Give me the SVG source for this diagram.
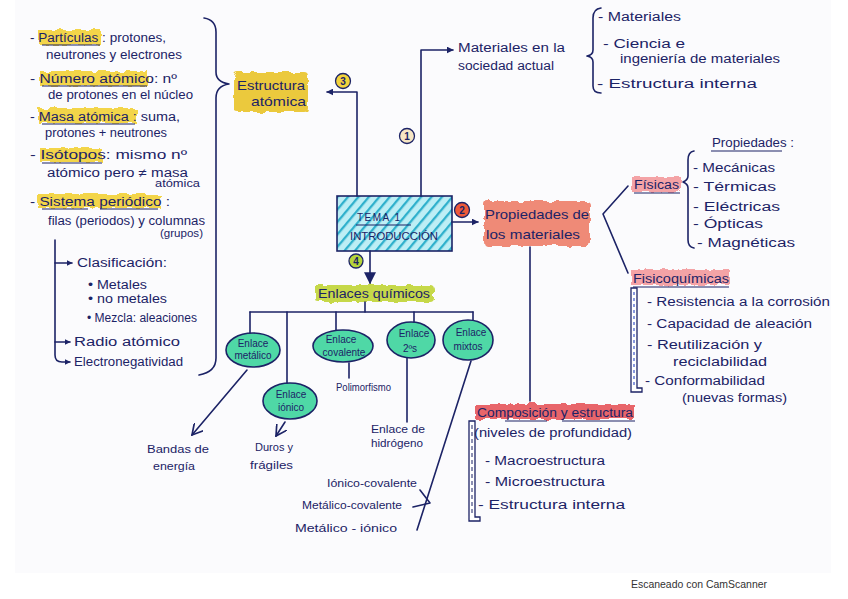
<svg xmlns="http://www.w3.org/2000/svg" width="848" height="599" viewBox="0 0 848 599">
<style>
.t{font-family:"Liberation Sans",Arial,sans-serif;font-size:12px;fill:#1c2366}
.s{font-size:10px}
.m{font-size:13px}
.c{text-anchor:middle}
.ink{fill:none;stroke:#1c2366;stroke-width:1.6;stroke-linecap:round;stroke-linejoin:round}
.ul{stroke:#1c2366;stroke-width:1.2}
.ell{fill:#4fd8a6;stroke:#1c2366;stroke-width:1.6}
.hl{filter:url(#rough)}
.num{font-family:"Liberation Sans",Arial,sans-serif;font-size:10px;font-weight:bold;fill:#1c2366;text-anchor:middle}
</style>
<defs>
<filter id="rough" x="-10%" y="-30%" width="120%" height="160%">
<feTurbulence type="fractalNoise" baseFrequency="0.12" numOctaves="2" seed="4" result="n"/>
<feDisplacementMap in="SourceGraphic" in2="n" scale="6"/>
</filter>
<pattern id="hatch" width="8" height="8" patternUnits="userSpaceOnUse" patternTransform="rotate(40)">
<rect width="8" height="8" fill="#bdeef5"/>
<line x1="1" y1="0" x2="1" y2="8" stroke="#2fb0cc" stroke-width="2.6"/>
</pattern>
<marker id="ah" viewBox="0 0 10 10" refX="9" refY="5" markerWidth="7" markerHeight="7" orient="auto-start-reverse" markerUnits="userSpaceOnUse">
<path d="M0,0 L10,5 L0,10 z" fill="#1c2366"/>
</marker>
<marker id="ahs" viewBox="0 0 10 10" refX="9" refY="5" markerWidth="6" markerHeight="6" orient="auto" markerUnits="userSpaceOnUse">
<path d="M0,0 L10,5 L0,10 z" fill="#1c2366"/>
</marker>
<marker id="ahb" viewBox="0 0 10 10" refX="9" refY="5" markerWidth="12" markerHeight="12" orient="auto" markerUnits="userSpaceOnUse">
<path d="M0,0 L10,5 L0,10 z" fill="#1c2366"/>
</marker>
<marker id="chev" viewBox="0 0 10 10" refX="9" refY="5" markerWidth="12" markerHeight="12" orient="auto" markerUnits="userSpaceOnUse">
<path d="M0,0 L9,5 L0,10" fill="none" stroke="#1c2366" stroke-width="1.4"/>
</marker>
</defs>
<rect width="848" height="599" fill="#ffffff"/>
<rect x="15" y="0" width="816" height="573" fill="#fbfbfd"/>

<!-- Left column: estructura atómica details -->
<g id="left-list">
<rect class="hl" x="39" y="30" width="62" height="15" fill="#f3d54a"/>
<rect class="hl" x="40" y="71" width="108" height="15" fill="#f3d54a"/>
<rect class="hl" x="38" y="108" width="98" height="15" fill="#f3d54a"/>
<rect class="hl" x="40" y="148" width="62" height="14" fill="#f3d54a"/>
<rect class="hl" x="38" y="194" width="122" height="14" fill="#f3d54a"/>
<line class="ul" x1="42" y1="45" x2="100" y2="45"/>
<line class="ul" x1="42" y1="86" x2="147" y2="86"/>
<line class="ul" x1="42" y1="124" x2="135" y2="124"/>
<line class="ul" x1="42" y1="163" x2="102" y2="163"/>
<line class="ul" x1="42" y1="209" x2="88" y2="209"/>
<line class="ul" x1="100" y1="209" x2="158" y2="209"/>
<text class="t" x="30" y="42" textLength="136" lengthAdjust="spacingAndGlyphs">- Partículas : protones,</text>
<text class="t" x="46" y="59" textLength="136" lengthAdjust="spacingAndGlyphs">neutrones y electrones</text>
<text class="t" x="30" y="83" textLength="147" lengthAdjust="spacingAndGlyphs">- Número atómico: nº</text>
<text class="t" x="48" y="99" textLength="145" lengthAdjust="spacingAndGlyphs">de protones en el núcleo</text>
<text class="t" x="30" y="121" textLength="150" lengthAdjust="spacingAndGlyphs">- Masa atómica : suma,</text>
<text class="t" x="45" y="137" textLength="122" lengthAdjust="spacingAndGlyphs">protones + neutrones</text>
<text class="t" x="30" y="159" textLength="157" lengthAdjust="spacingAndGlyphs">- Isótopos: mismo nº</text>
<text class="t" x="47" y="177" textLength="141" lengthAdjust="spacingAndGlyphs">atómico pero ≠ masa</text>
<text class="t s" x="155" y="187" textLength="45" lengthAdjust="spacingAndGlyphs">atómica</text>
<text class="t" x="30" y="206" textLength="140" lengthAdjust="spacingAndGlyphs">- Sistema periódico :</text>
<text class="t" x="48" y="225" textLength="157" lengthAdjust="spacingAndGlyphs">filas (periodos) y columnas</text>
<text class="t s" x="160" y="237" textLength="43" lengthAdjust="spacingAndGlyphs">(grupos)</text>
<path class="ink" d="M55,240 L55,355 Q55,362 62,362 L70,362" marker-end="url(#ahs)"/>
<line class="ink" x1="55" y1="263" x2="72" y2="263" marker-end="url(#ahs)"/>
<line class="ink" x1="55" y1="342" x2="70" y2="342" marker-end="url(#ahs)"/>
<text class="t" x="77" y="267" textLength="90" lengthAdjust="spacingAndGlyphs">Clasificación:</text>
<text class="t" x="88" y="289" textLength="59" lengthAdjust="spacingAndGlyphs">• Metales</text>
<text class="t" x="88" y="303" textLength="79" lengthAdjust="spacingAndGlyphs">• no metales</text>
<text class="t" x="87" y="322" textLength="110" lengthAdjust="spacingAndGlyphs">• Mezcla: aleaciones</text>
<text class="t" x="74" y="346" textLength="106" lengthAdjust="spacingAndGlyphs">Radio atómico</text>
<text class="t" x="74" y="366" textLength="109" lengthAdjust="spacingAndGlyphs">Electronegatividad</text>
<path class="ink" d="M204,18 Q216,20 216,32 L216,72 Q216,82 229,84 Q216,86 216,98 L216,358 Q216,372 199,375"/>
</g>

<!-- Estructura atómica -->
<g id="estructura-atomica">
<rect class="hl" x="234" y="72" width="74" height="40" rx="4" fill="#ebc93e"/>
<text class="t m" x="237" y="90" textLength="68" lengthAdjust="spacingAndGlyphs">Estructura</text>
<text class="t m" x="251" y="106" textLength="55" lengthAdjust="spacingAndGlyphs">atómica</text>
</g>

<!-- Tema box -->
<g id="tema">
<rect x="337" y="196" width="115" height="55" fill="url(#hatch)" stroke="#1c2366" stroke-width="1.6"/>
<text class="t s" x="357" y="221" letter-spacing="1.5">TEMA 1</text>
<line class="ul" x1="356" y1="225" x2="411" y2="225"/>
<text class="t s" x="350" y="240" textLength="88" lengthAdjust="spacingAndGlyphs">INTRODUCCIÓN</text>
</g>

<!-- Materiales en la sociedad actual -->
<g id="materiales-sociedad">
<text class="t" x="458" y="52" textLength="107" lengthAdjust="spacingAndGlyphs">Materiales en la</text>
<text class="t" x="458" y="70" textLength="96" lengthAdjust="spacingAndGlyphs">sociedad actual</text>
<path class="ink" d="M601,8 Q593,9 593,18 L593,50 Q593,55 587,56 Q593,57 593,62 L593,86 Q593,93 601,93"/>
<text class="t" x="598" y="21" textLength="83" lengthAdjust="spacingAndGlyphs">- Materiales</text>
<text class="t" x="603" y="48" textLength="82" lengthAdjust="spacingAndGlyphs">- Ciencia e</text>
<text class="t" x="620" y="63" textLength="160" lengthAdjust="spacingAndGlyphs">ingeniería de materiales</text>
<text class="t" x="597" y="88" textLength="160" lengthAdjust="spacingAndGlyphs">- Estructura interna</text>
</g>

<!-- Propiedades de los materiales -->
<g id="propiedades">
<rect class="hl" x="484" y="201" width="106" height="45" rx="4" fill="#ef8a77"/>
<text class="t m" x="485" y="219" textLength="104" lengthAdjust="spacingAndGlyphs">Propiedades de</text>
<text class="t m" x="486" y="239" textLength="94" lengthAdjust="spacingAndGlyphs">los materiales</text>
</g>

<!-- Físicas -->
<g id="fisicas">
<rect class="hl" x="632" y="177" width="49" height="15" fill="#f4a3a6"/>
<text class="t" x="634" y="189" textLength="45" lengthAdjust="spacingAndGlyphs">Físicas</text>
<line class="ul" x1="634" y1="193" x2="680" y2="193"/>
<path class="ink" d="M694,151 Q688,152 688,160 L688,176 Q688,180 683,182 Q688,184 688,188 L688,240 Q688,247 694,248"/>
<text class="t" x="712" y="147" textLength="82" lengthAdjust="spacingAndGlyphs">Propiedades :</text>
<line class="ul" x1="711" y1="151" x2="782" y2="151"/>
<text class="t" x="693" y="172" textLength="82" lengthAdjust="spacingAndGlyphs">- Mecánicas</text>
<text class="t" x="693" y="191" textLength="83" lengthAdjust="spacingAndGlyphs">- Térmicas</text>
<text class="t" x="693" y="211" textLength="87" lengthAdjust="spacingAndGlyphs">- Eléctricas</text>
<text class="t" x="693" y="228" textLength="70" lengthAdjust="spacingAndGlyphs">- Ópticas</text>
<text class="t" x="697" y="247" textLength="98" lengthAdjust="spacingAndGlyphs">- Magnéticas</text>
</g>

<!-- Fisicoquímicas -->
<g id="fisicoquimicas">
<rect class="hl" x="631" y="270" width="99" height="15" fill="#f4a3a6"/>
<text class="t" x="633" y="283" textLength="96" lengthAdjust="spacingAndGlyphs">Fisicoquímicas</text>
<line class="ul" x1="633" y1="287" x2="729" y2="287"/>
<path d="M631,288 L637,288 L637,388 L642,388 L642,392 L631,392 Z" fill="#ffffff" stroke="#1c2366" stroke-width="1.3"/>
<line x1="634" y1="292" x2="634" y2="388" stroke="#3b55c9" stroke-width="1.2" stroke-dasharray="3 3"/>
<text class="t" x="647" y="306" textLength="183" lengthAdjust="spacingAndGlyphs">- Resistencia a la corrosión</text>
<text class="t" x="647" y="328" textLength="165" lengthAdjust="spacingAndGlyphs">- Capacidad de aleación</text>
<text class="t" x="647" y="349" textLength="115" lengthAdjust="spacingAndGlyphs">- Reutilización y</text>
<text class="t" x="673" y="366" textLength="94" lengthAdjust="spacingAndGlyphs">reciclabilidad</text>
<text class="t" x="645" y="385" textLength="120" lengthAdjust="spacingAndGlyphs">- Conformabilidad</text>
<text class="t" x="682" y="402" textLength="105" lengthAdjust="spacingAndGlyphs">(nuevas formas)</text>
</g>

<!-- Composición y estructura -->
<g id="composicion">
<rect class="hl" x="475" y="404" width="160" height="15" fill="#e8656b"/>
<text class="t" x="477" y="417" textLength="156" lengthAdjust="spacingAndGlyphs">Composición y estructura</text>
<line class="ul" x1="505" y1="421" x2="547" y2="421"/>
<line class="ul" x1="562" y1="421" x2="635" y2="421"/>
<path d="M469,421 L475,421 L475,517 L480,517 L480,521 L469,521 Z" fill="#ffffff" stroke="#1c2366" stroke-width="1.3"/>
<line x1="472" y1="425" x2="472" y2="516" stroke="#1c2366" stroke-width="1" stroke-dasharray="4 3"/>
<text class="t" x="474" y="437" textLength="158" lengthAdjust="spacingAndGlyphs">(niveles de profundidad)</text>
<text class="t" x="485" y="465" textLength="120" lengthAdjust="spacingAndGlyphs">- Macroestructura</text>
<text class="t" x="485" y="486" textLength="120" lengthAdjust="spacingAndGlyphs">- Microestructura</text>
<text class="t" x="478" y="509" textLength="147" lengthAdjust="spacingAndGlyphs">- Estructura interna</text>
</g>

<!-- Enlaces químicos -->
<g id="enlaces-quimicos">
<rect class="hl" x="315" y="285" width="119" height="17" rx="4" fill="#c6d84a"/>
<text class="t" x="318" y="298" textLength="112" lengthAdjust="spacingAndGlyphs">Enlaces químicos</text>
</g>

<g id="enlace-metalico">
<ellipse class="ell" cx="253" cy="350" rx="27" ry="17"/>
<text class="t s c" x="253" y="347">Enlace</text>
<text class="t s c" x="253" y="359">metálico</text>
</g>
<g id="enlace-ionico">
<ellipse class="ell" cx="290" cy="401" rx="27" ry="18"/>
<text class="t s c" x="291" y="398">Enlace</text>
<text class="t s c" x="291" y="411">iónico</text>
</g>
<g id="enlace-covalente">
<ellipse class="ell" cx="343" cy="346" rx="30" ry="16"/>
<text class="t s c" x="341" y="343">Enlace</text>
<text class="t s c" x="344" y="356">covalente</text>
</g>
<g id="enlace-2os">
<ellipse class="ell" cx="411" cy="340" rx="24" ry="18"/>
<text class="t s c" x="414" y="337">Enlace</text>
<text class="t s c" x="410" y="352">2ºs</text>
</g>
<g id="enlace-mixtos">
<ellipse class="ell" cx="468" cy="340" rx="25" ry="20"/>
<text class="t s c" x="471" y="336">Enlace</text>
<text class="t s c" x="468" y="350">mixtos</text>
</g>

<g id="bandas"><text class="t s" x="147" y="453" textLength="62" lengthAdjust="spacingAndGlyphs">Bandas de</text>
<text class="t s" x="153" y="470" textLength="42" lengthAdjust="spacingAndGlyphs">energía</text></g>
<g id="duros"><text class="t s" x="255" y="451" textLength="38" lengthAdjust="spacingAndGlyphs">Duros y</text>
<text class="t s" x="250" y="469" textLength="43" lengthAdjust="spacingAndGlyphs">frágiles</text></g>
<g id="polimorfismo"><text class="t s" x="336" y="391" textLength="55" lengthAdjust="spacingAndGlyphs">Polimorfismo</text></g>
<g id="hidrogeno"><text class="t s" x="371" y="433" textLength="54" lengthAdjust="spacingAndGlyphs">Enlace de</text>
<text class="t s" x="371" y="447" textLength="52" lengthAdjust="spacingAndGlyphs">hidrógeno</text></g>
<g id="mixtos-tipos">
<text class="t s" x="327" y="487" textLength="90" lengthAdjust="spacingAndGlyphs">Iónico-covalente</text>
<text class="t s" x="302" y="509" textLength="100" lengthAdjust="spacingAndGlyphs">Metálico-covalente</text>
<text class="t s" x="295" y="532" textLength="102" lengthAdjust="spacingAndGlyphs">Metálico - iónico</text>
</g>

<!-- Connectors -->
<g id="connectors">
<path class="ink" d="M421,196 L421,50 L453,50" marker-end="url(#ah)"/>
<path class="ink" d="M357,196 L357,92 L327,92" marker-end="url(#ah)"/>
<line class="ink" x1="452" y1="222" x2="478" y2="222" marker-end="url(#ah)"/>
<line class="ink" x1="370" y1="251" x2="370" y2="283" stroke-width="2" marker-end="url(#ahb)"/>
<path class="ink" d="M628,186 L603,214 L628,273"/>
<line class="ink" x1="530" y1="247" x2="530" y2="401"/>
<line class="ink" x1="365" y1="302" x2="365" y2="312"/>
<line class="ink" x1="250" y1="312" x2="473" y2="312"/>
<line class="ink" x1="250" y1="312" x2="250" y2="333"/>
<line class="ink" x1="287" y1="312" x2="287" y2="383"/>
<line class="ink" x1="336" y1="312" x2="336" y2="330"/>
<line class="ink" x1="414" y1="312" x2="414" y2="322"/>
<line class="ink" x1="473" y1="312" x2="473" y2="320"/>
<line class="ink" x1="247" y1="370" x2="192" y2="435" marker-end="url(#chev)"/>
<line class="ink" x1="285" y1="422" x2="276" y2="436" marker-end="url(#chev)"/>
<line class="ink" x1="349" y1="363" x2="349" y2="378"/>
<line class="ink" x1="407" y1="358" x2="407" y2="422"/>
<line class="ink" x1="471" y1="361" x2="417" y2="530"/>
<path class="ink" d="M413,507 L430,503 M420,490 L430,503"/>
<circle cx="407" cy="136" r="7.5" fill="#f7e6c4" stroke="#1c2366" stroke-width="1.3"/>
<text class="num" x="407" y="140">1</text>
<circle cx="462" cy="210" r="7.5" fill="#ee5a3a" stroke="#1c2366" stroke-width="1.3"/>
<text class="num" x="462" y="214">2</text>
<circle cx="343" cy="81" r="7.5" fill="#f3d33c" stroke="#1c2366" stroke-width="1.3"/>
<text class="num" x="343" y="85">3</text>
<circle cx="356" cy="261" r="7" fill="#b6d43a" stroke="#1c2366" stroke-width="1.3"/>
<text class="num" x="356" y="265">4</text>
</g>

<text x="631" y="588" font-family="Liberation Sans, Arial, sans-serif" font-size="11" fill="#333333" textLength="136" lengthAdjust="spacingAndGlyphs">Escaneado con CamScanner</text>
</svg>
